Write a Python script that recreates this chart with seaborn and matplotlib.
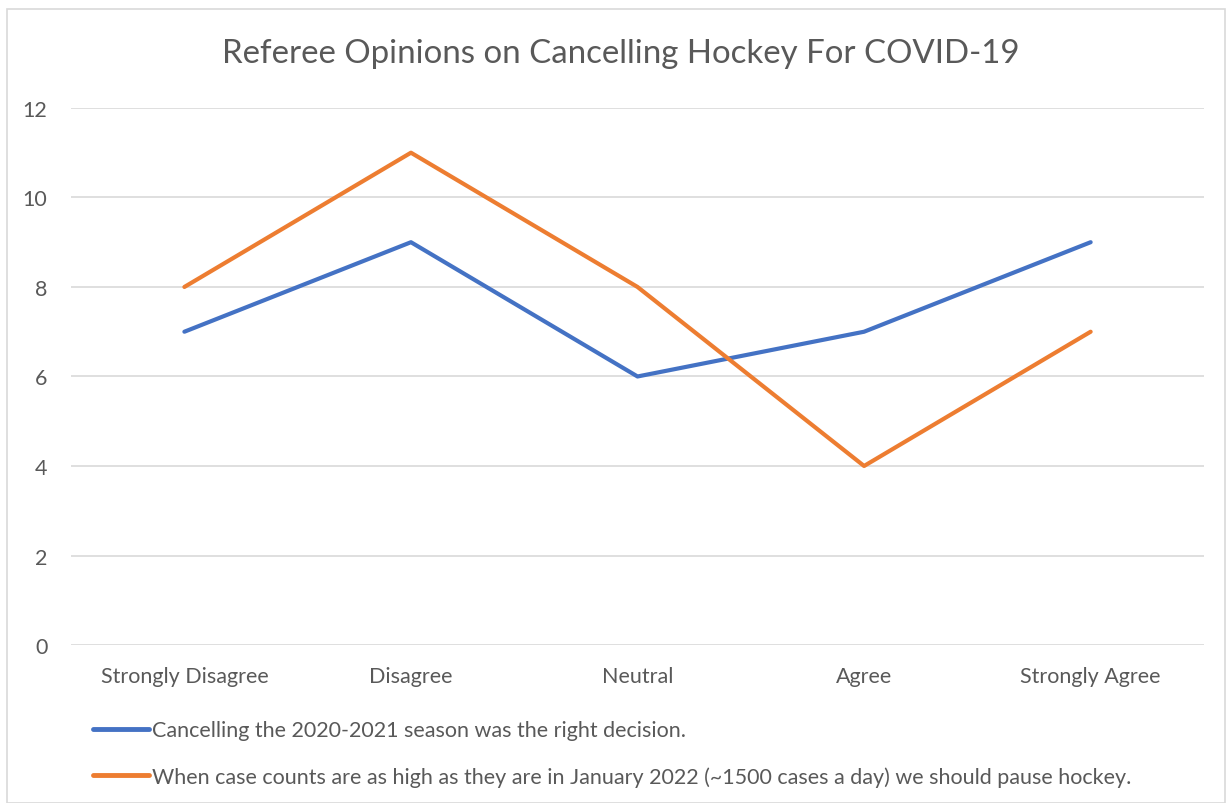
import pandas as pd
import seaborn as sns
import matplotlib.pyplot as plt
from matplotlib.patches import Rectangle

# Survey responses
categories = ["Strongly Disagree", "Disagree", "Neutral", "Agree", "Strongly Agree"]
season_vals = [7, 9, 6, 7, 9]
pause_vals = [8, 11, 8, 4, 7]
series_names = [
    "Cancelling the 2020-2021 season was the right decision.",
    "When case counts are as high as they are in January 2022 (~1500 cases a day) we should pause hockey.",
]
y_ticks = [0, 2, 4, 6, 8, 10, 12]

TEXT = "#595959"
GRID = "#D9D9D9"
COLORS = ["#4472C4", "#ED7D31"]


def main():
    df = pd.DataFrame({
        "category": categories * 2,
        "pos": list(range(len(categories))) * 2,
        "value": season_vals + pause_vals,
        "series": [series_names[0]] * len(categories) + [series_names[1]] * len(categories),
    })

    sns.set_style("white")
    plt.rcParams["font.family"] = ["Lato", "DejaVu Sans"]

    fig = plt.figure(figsize=(12.26, 8.04), dpi=100)
    ax = fig.add_axes([0.058, 0.1965, 0.924, 0.668])

    sns.lineplot(data=df, x="pos", y="value", hue="series", palette=COLORS,
                 hue_order=series_names, linewidth=3, ax=ax, legend=False,
                 solid_capstyle="round")

    ax.set_xlim(-0.5, len(categories) - 0.5)
    ax.set_ylim(0, 12)
    ax.set_yticks(y_ticks)
    ax.set_xticks(range(len(categories)))
    ax.set_xticklabels(categories)
    ax.yaxis.grid(True, color=GRID, linewidth=1.2)
    ax.set_axisbelow(True)
    for s in ax.spines.values():
        s.set_visible(False)
    ax.tick_params(axis="both", length=0, labelsize=15.5, labelcolor=TEXT)
    ax.tick_params(axis="x", pad=15)
    ax.tick_params(axis="y", pad=17)
    ax.set_xlabel("")
    ax.set_ylabel("")

    fig.suptitle("Referee Opinions on Cancelling Hockey For COVID-19",
                 x=0.506, y=0.952, fontsize=23.8, color=TEXT)

    handles = [plt.Line2D([], [], color=c, linewidth=3.5, solid_capstyle="round") for c in COLORS]
    fig.legend(handles, series_names, loc="upper left", bbox_to_anchor=(0.0755, 0.103),
               frameon=False, fontsize=15.5, labelcolor=TEXT, handlelength=2.6,
               handletextpad=0.14, labelspacing=1.2, borderaxespad=0, borderpad=0)

    fig.patches.append(Rectangle((0.006, 0.0), 0.993, 0.987, transform=fig.transFigure,
                                 fill=False, edgecolor=GRID, linewidth=1.2))

    fig.savefig("out.png", dpi=100)


if __name__ == "__main__":
    main()
